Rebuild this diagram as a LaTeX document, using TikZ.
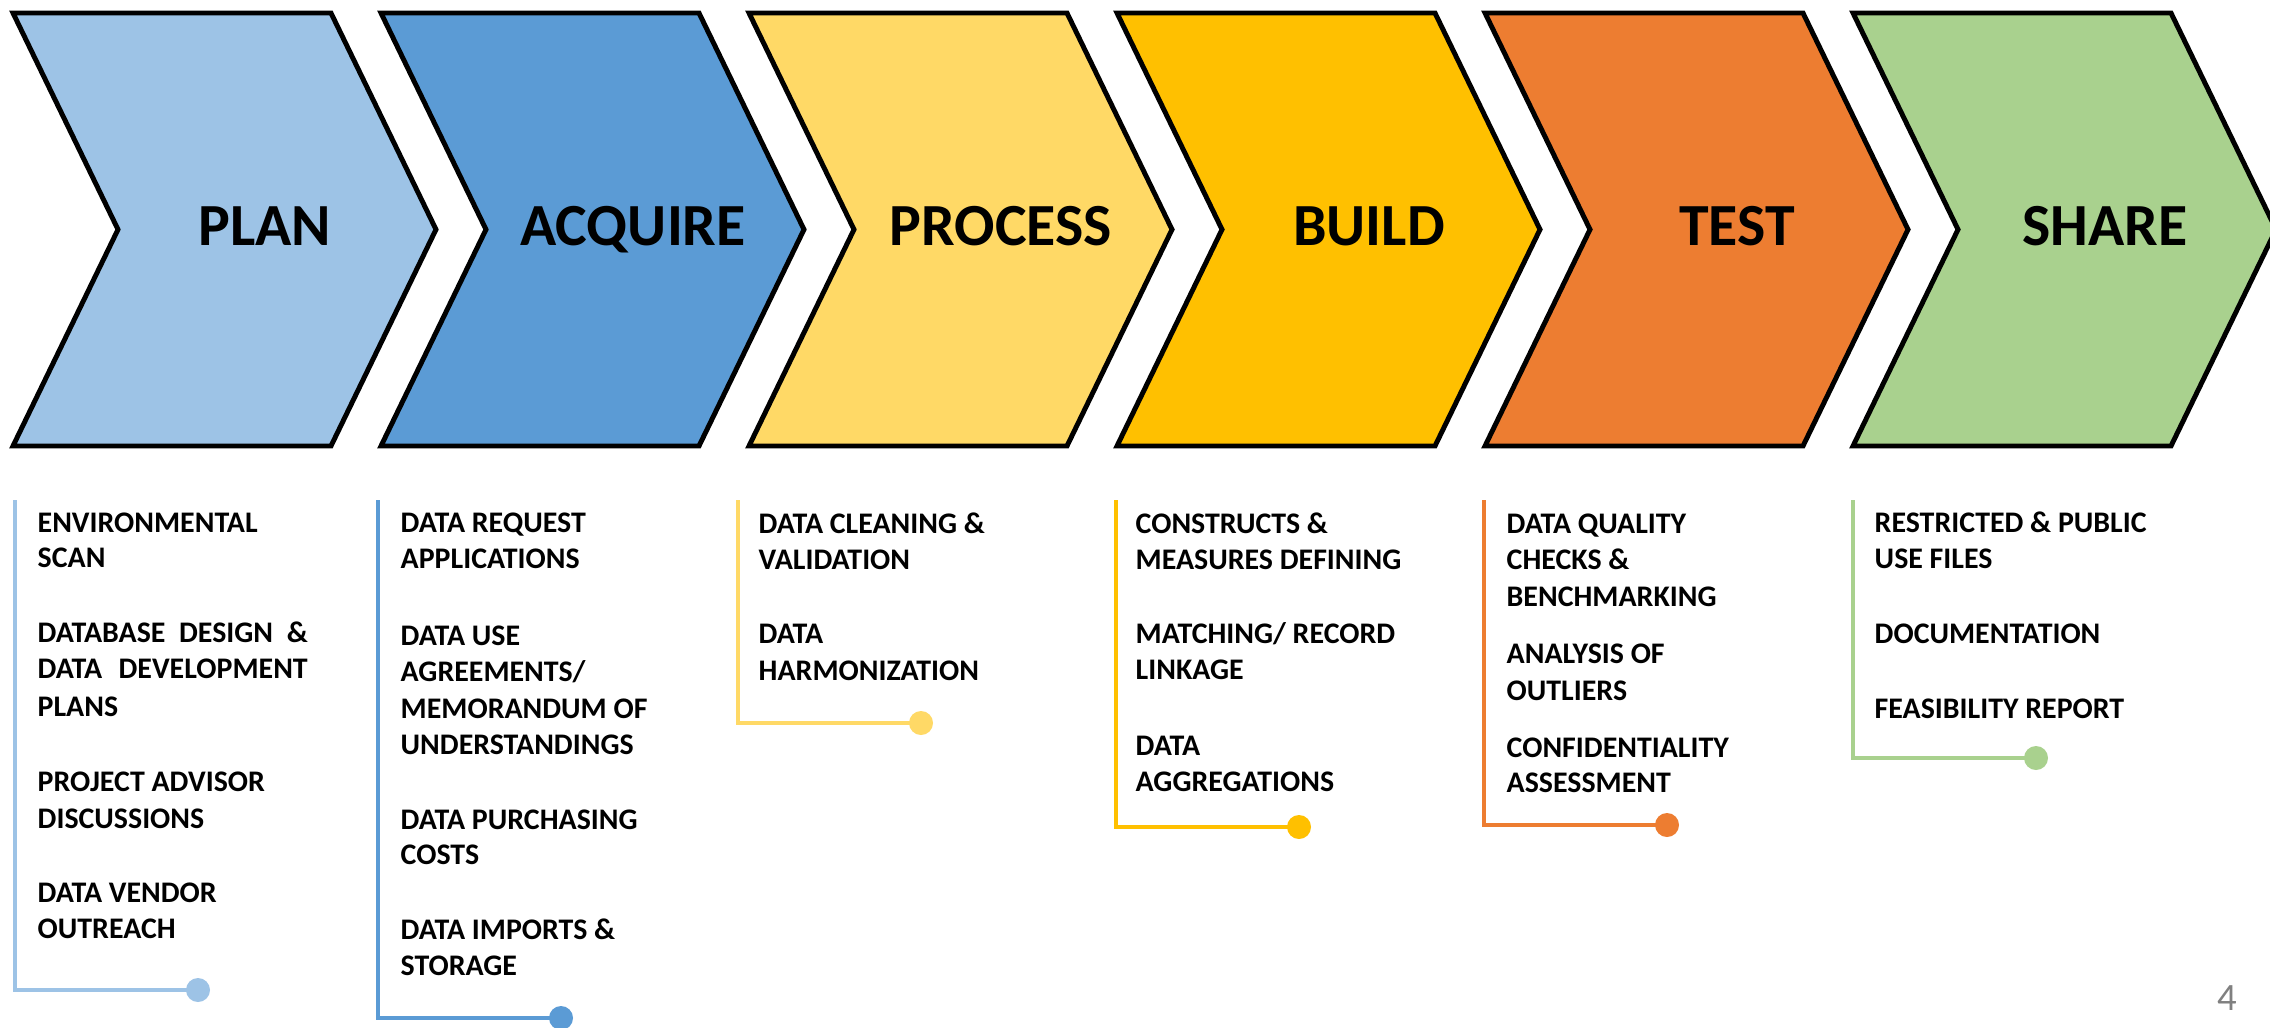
\documentclass[tikz,border=0pt]{standalone}
\usepackage{fontspec}
\setmainfont{Carlito}
\definecolor{cplan}{HTML}{9DC3E6}
\definecolor{cacq}{HTML}{5B9BD5}
\definecolor{cproc}{HTML}{FFD966}
\definecolor{cbuild}{HTML}{FFC000}
\definecolor{ctest}{HTML}{ED7D31}
\definecolor{cshare}{HTML}{A9D18E}
\begin{document}
\begin{tikzpicture}[x=0.01cm,y=-0.01cm,
  chev/.style={draw=black,line width=1.4pt,line join=miter},
  lbl/.style={font=\fontsize{17}{20}\selectfont\bfseries,inner sep=0pt,anchor=base},
  itm/.style={font=\fontsize{8.5}{10}\selectfont\bfseries,inner sep=0pt,anchor=base west},
  brk/.style={line width=1.4pt,line join=miter},
  pagenum/.style={font=\fontsize{11}{13}\selectfont,text=gray,inner sep=0pt,anchor=base}]
\useasboundingbox (0,0) rectangle (2270,1027);
\newcommand\chevron[4]{%
  \filldraw[chev,fill=#2] (#1,13) -- ++(318,0) -- ++(105,216.5) -- ++(-105,216.5) -- ++(-318,0) -- ++(105,-216.5) -- cycle;
  \node[lbl] (#3) at (#1+252,245) {#4};
}
\newcommand\bracketline[4]{%
  \coordinate (#4top) at (#1,500);
  \coordinate (#4corner) at (#1,#2);
  \coordinate (#4end) at (#1+183,#2);
  \draw[brk,draw=#3] (#4top) -- (#4corner) -- (#4end);
  \fill[#3] (#4end) circle[radius=0.12cm];
}
\newcommand\itemlist[3]{%
  \foreach \yy/\txt [count=\ii] in {#3} {\node[itm] (#2\ii) at (#1,\yy) {\txt};}
}
% chevrons
\chevron{13}{cplan}{plan}{PLAN}
\chevron{381}{cacq}{acquire}{ACQUIRE}
\chevron{749}{cproc}{process}{PROCESS}
\chevron{1117}{cbuild}{build}{BUILD}
\chevron{1485}{ctest}{test}{TEST}
\chevron{1853}{cshare}{share}{SHARE}
% brackets
\bracketline{15}{990}{cplan}{bp}
\bracketline{378}{1018}{cacq}{ba}
\bracketline{738}{723}{cproc}{bpr}
\bracketline{1116}{827}{cbuild}{bb}
\bracketline{1484}{825}{ctest}{bt}
\bracketline{1853}{758}{cshare}{bs}
% lists
\itemlist{37}{ip}{532/ENVIRONMENTAL, 567/SCAN, 642/{\makebox[76.8pt][s]{DATABASE DESIGN \&}}, 678/{\makebox[76.8pt][s]{DATA DEVELOPMENT}}, 716/PLANS, 791/PROJECT ADVISOR, 828/DISCUSSIONS, 902/DATA VENDOR, 938/OUTREACH}
\itemlist{400}{ia}{532/DATA REQUEST, 568/APPLICATIONS, 645/DATA USE, 681/{AGREEMENTS/}, 718/MEMORANDUM OF, 754/UNDERSTANDINGS, 829/DATA PURCHASING, 864/COSTS, 939/DATA IMPORTS \&, 975/STORAGE}
\itemlist{758}{ipr}{533/DATA CLEANING \&, 569/VALIDATION, 643/DATA, 680/HARMONIZATION}
\itemlist{1135}{ib}{533/CONSTRUCTS \&, 569/MEASURES DEFINING, 643/{MATCHING/ RECORD}, 679/LINKAGE, 755/DATA, 791/AGGREGATIONS}
\itemlist{1506}{it}{533/DATA QUALITY, 569/CHECKS \&, 606/BENCHMARKING, 663/ANALYSIS OF, 700/OUTLIERS, 757/CONFIDENTIALITY, 792/ASSESSMENT}
\itemlist{1874}{is}{532/RESTRICTED \& PUBLIC, 568/USE FILES, 643/DOCUMENTATION, 718/FEASIBILITY REPORT}
\node[pagenum] (pnum) at (2227,1010) {4};
\end{tikzpicture}
\end{document}
